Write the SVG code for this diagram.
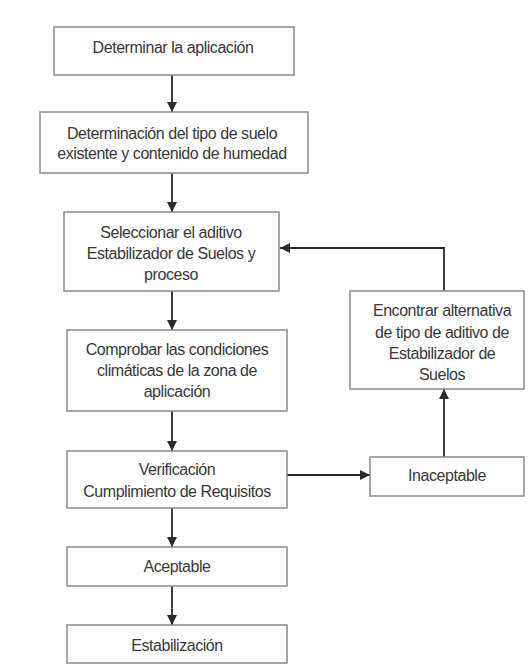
<svg xmlns="http://www.w3.org/2000/svg" width="528" height="664" viewBox="0 0 528 664">
<style>
.box{fill:#ffffff;stroke:#8a8a8a;stroke-width:1.5}
.t{font-family:"Liberation Sans",Arial,sans-serif;font-size:16px;letter-spacing:-0.45px;fill:#383838;text-anchor:middle}
.c{fill:none;stroke:#2a2a2a;stroke-width:1.8}
</style>
<defs>
<marker id="ah" viewBox="0 0 10 10" refX="10" refY="5" markerWidth="10" markerHeight="10" markerUnits="userSpaceOnUse" orient="auto">
<path d="M0,0 L10,5 L0,10 z" fill="#2a2a2a"/>
</marker>
</defs>
<rect width="528" height="664" fill="#ffffff"/>
<g id="connectors">
<line class="c" x1="172" y1="75" x2="172" y2="112" marker-end="url(#ah)"/>
<line class="c" x1="172" y1="173" x2="172" y2="212" marker-end="url(#ah)"/>
<line class="c" x1="172" y1="291" x2="172" y2="330" marker-end="url(#ah)"/>
<line class="c" x1="172" y1="411" x2="172" y2="451" marker-end="url(#ah)"/>
<line class="c" x1="172" y1="508" x2="172" y2="547" marker-end="url(#ah)"/>
<line class="c" x1="172" y1="586" x2="172" y2="625" marker-end="url(#ah)"/>
<line class="c" x1="287" y1="475" x2="370" y2="475" marker-end="url(#ah)"/>
<line class="c" x1="444" y1="457" x2="444" y2="389" marker-end="url(#ah)"/>
<polyline class="c" points="444,291 444,248 280,248" marker-end="url(#ah)"/>
</g>
<g id="n1"><rect class="box" x="54" y="27" width="240" height="48"/><text class="t" x="173" y="53">Determinar la aplicación</text></g>
<g id="n2"><rect class="box" x="40" y="112" width="268" height="61"/><text class="t" x="172" y="139">Determinación del tipo de suelo</text><text class="t" x="172" y="159">existente y contenido de humedad</text></g>
<g id="n3"><rect class="box" x="64" y="212" width="215" height="79"/><text class="t" x="171" y="238">Seleccionar el aditivo</text><text class="t" x="171" y="259">Estabilizador de Suelos y</text><text class="t" x="171" y="280">proceso</text></g>
<g id="n4"><rect class="box" x="67" y="330" width="220" height="81"/><text class="t" x="177" y="355">Comprobar las condiciones</text><text class="t" x="177" y="376">climáticas de la zona de</text><text class="t" x="177" y="397">aplicación</text></g>
<g id="n5"><rect class="box" x="67" y="451" width="220" height="57"/><text class="t" x="177" y="475">Verificación</text><text class="t" x="177" y="497">Cumplimiento de Requisitos</text></g>
<g id="n6"><rect class="box" x="67" y="547" width="220" height="39"/><text class="t" x="177" y="572">Aceptable</text></g>
<g id="n7"><rect class="box" x="67" y="625" width="220" height="38"/><text class="t" x="177" y="651">Estabilización</text></g>
<g id="n8"><rect class="box" x="350" y="291" width="174" height="98"/><text class="t" x="442" y="316">Encontrar alternativa</text><text class="t" x="442" y="338">de tipo de aditivo de</text><text class="t" x="442" y="359">Estabilizador de</text><text class="t" x="442" y="380">Suelos</text></g>
<g id="n9"><rect class="box" x="370" y="457" width="154" height="39"/><text class="t" x="447" y="481">Inaceptable</text></g>
</svg>
